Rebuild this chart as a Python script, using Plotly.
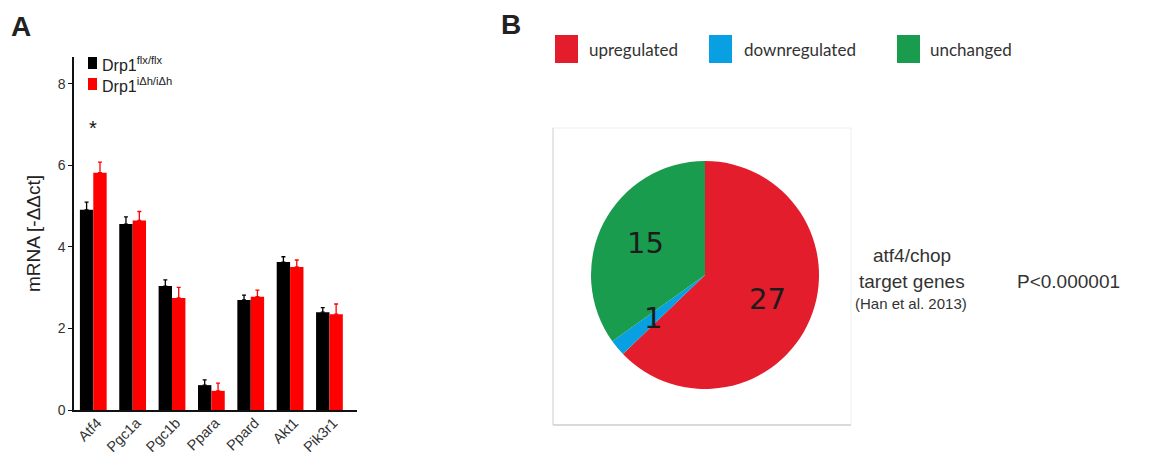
import plotly.graph_objects as go

# ---- panel A: qPCR expression data ----
genes = ["Atf4", "Pgc1a", "Pgc1b", "Ppara", "Ppard", "Akt1", "Pik3r1"]
ctrl_mean = [4.91, 4.56, 3.04, 0.61, 2.70, 3.63, 2.40]
ctrl_err = [0.19, 0.18, 0.15, 0.13, 0.12, 0.13, 0.11]
ko_mean = [5.82, 4.65, 2.75, 0.47, 2.78, 3.51, 2.35]
ko_err = [0.26, 0.22, 0.26, 0.19, 0.16, 0.17, 0.25]
significant = ["*", "", "", "", "", "", ""]
group_names = ["Drp1<sup>flx/flx</sup>", "Drp1<sup>iΔh/iΔh</sup>"]
group_colors = ["#000000", "#ff0000"]

# ---- panel B: target gene classification ----
classes = ["upregulated", "downregulated", "unchanged"]
class_counts = [27, 1, 15]
class_colors = ["#e31d2c", "#08a0e2", "#1a9c4e"]

W, H = 1172, 457
ARIAL = "Liberation Sans, Arial"


def px(x):
    return x / W


def py(y):
    return 1 - y / H


fig = go.Figure()

for name, col, mean, err in zip(group_names, group_colors, [ctrl_mean, ko_mean], [ctrl_err, ko_err]):
    fig.add_trace(go.Bar(
        x=genes, y=mean, name=name, showlegend=False,
        marker=dict(color=col, line=dict(width=0)),
        error_y=dict(type="data", array=err, arrayminus=[0] * len(genes),
                     symmetric=False, color=col, thickness=1.3, width=2),
    ))

fig.add_trace(go.Pie(
    labels=classes, values=class_counts, sort=False, direction="clockwise",
    rotation=0, marker=dict(colors=class_colors, line=dict(width=0)),
    textinfo="none", hoverinfo="label+value", showlegend=False,
    domain=dict(x=[px(591), px(819)], y=[py(389), py(161)]),
))

annotations = []
shapes = []

# significance markers above each gene group
for g, s in zip(genes, significant):
    if s:
        annotations.append(dict(x=g, y=6.92, xref="x", yref="y", text=s,
                                xanchor="center", yanchor="middle", showarrow=False,
                                font=dict(size=20, color="#111", family=ARIAL)))

# bar legend
for name, col, (y0, y1) in zip(group_names, group_colors, [(57, 69), (78, 90)]):
    shapes.append(dict(type="rect", xref="paper", yref="paper",
                       x0=px(88), x1=px(97), y0=py(y1), y1=py(y0),
                       fillcolor=col, line=dict(width=0)))
    annotations.append(dict(x=px(100), y=py((y0 + y1) / 2 + 1), xref="paper", yref="paper",
                            text=name, xanchor="left", yanchor="middle", showarrow=False,
                            font=dict(size=16, color="#222", family=ARIAL)))

# panel letters
annotations.append(dict(x=px(21), y=py(26), xref="paper", yref="paper", text="<b>A</b>",
                        xanchor="center", yanchor="middle", showarrow=False,
                        font=dict(size=28, color="#222", family=ARIAL)))
annotations.append(dict(x=px(511), y=py(25), xref="paper", yref="paper", text="<b>B</b>",
                        xanchor="center", yanchor="middle", showarrow=False,
                        font=dict(size=28, color="#222", family=ARIAL)))

# slice counts
count_pos = [(767, 299), (653, 318), (645, 243)]
for n, (cx, cy) in zip(class_counts, count_pos):
    annotations.append(dict(x=px(cx), y=py(cy), xref="paper", yref="paper", text=str(n),
                            xanchor="center", yanchor="middle", showarrow=False,
                            font=dict(size=29, color="#1c1c1c", family="DejaVu Sans")))

# pie legend
legend_x = [(555, 587), (709, 742), (897, 928)]
for name, col, (sx, tx) in zip(classes, class_colors, legend_x):
    shapes.append(dict(type="rect", xref="paper", yref="paper",
                       x0=px(sx), x1=px(sx + 23), y0=py(63), y1=py(35),
                       fillcolor=col, line=dict(width=0)))
    annotations.append(dict(x=px(tx), y=py(49), xref="paper", yref="paper", text=name,
                            xanchor="left", yanchor="middle", showarrow=False,
                            font=dict(size=17, color="#333", family="Lato")))

# pie frame
shapes.append(dict(type="rect", xref="paper", yref="paper", x0=px(553), x1=px(851),
                   y0=py(425), y1=py(128), line=dict(color="#efefef", width=1)))
shapes.append(dict(type="line", xref="paper", yref="paper", x0=px(553), x1=px(553),
                   y0=py(425), y1=py(128), line=dict(color="#d6d6d6", width=1)))
shapes.append(dict(type="line", xref="paper", yref="paper", x0=px(553), x1=px(851),
                   y0=py(425), y1=py(425), line=dict(color="#d0d0d0", width=1.5)))

# side texts
side_texts = [("atf4/chop", 912, 255, 19), ("target genes", 912, 281, 19),
              ("(Han et al. 2013)", 911, 303, 15), ("P<0.000001", 1068, 281, 19)]
for txt, tx, ty, fs in side_texts:
    annotations.append(dict(x=px(tx), y=py(ty), xref="paper", yref="paper", text=txt,
                            xanchor="center", yanchor="middle", showarrow=False,
                            font=dict(size=fs, color="#333", family=ARIAL)))

fig.update_layout(
    width=W, height=H, margin=dict(l=0, r=0, t=0, b=0, autoexpand=False),
    paper_bgcolor="white", plot_bgcolor="white",
    font=dict(family=ARIAL, color="#222"),
    barmode="group", bargap=0.32, bargroupgap=0,
    xaxis=dict(domain=[px(74), px(357)], range=[-0.49, 6.70], showline=True,
               linecolor="#111", linewidth=1.5, ticks="", tickangle=-45,
               tickfont=dict(size=14.5, color="#333"), showgrid=False, zeroline=False,
               ticklabelshift=4, ticklabelstandoff=-3, automargin=False),
    yaxis=dict(domain=[py(410), py(57)], range=[0, 8.66], showline=True,
               linecolor="#111", linewidth=1.5, ticks="outside", ticklen=4,
               tickcolor="#111", tickvals=[0, 2, 4, 6, 8], showgrid=False,
               zeroline=False, tickfont=dict(size=14, color="#333"), automargin=False,
               title=dict(text="mRNA [-ΔΔct]", font=dict(size=19, color="#222"), standoff=12)),
    annotations=annotations, shapes=shapes,
)

fig.write_html("out.html")
